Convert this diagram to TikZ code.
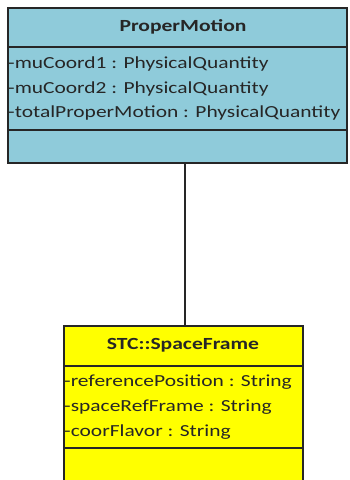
\documentclass[tikz,border=0pt]{standalone}
\usepackage{fontspec}
\setmainfont[FakeStretch=1.27]{Carlito}
\definecolor{pmblue}{RGB}{143,203,218}
\definecolor{sfyellow}{RGB}{255,255,0}
\begin{document}
\begin{tikzpicture}[x=1pt,y=-1pt,
  box/.style={draw=black!85,line width=1.6pt,inner sep=0pt,outer sep=0pt},
  ttl/.style={font=\fontsize{17}{19}\selectfont\bfseries,inner sep=0pt,text=black!85},
  attr/.style={font=\fontsize{16.9}{19}\selectfont,anchor=west,inner sep=0pt,text=black!85},
  link/.style={draw=black!85,line width=1.6pt}]
\useasboundingbox (0,0) rectangle (349,480);
% ProperMotion
\path[box,fill=pmblue] (8,8) rectangle (347,163);
\draw[box] (8,47) -- (347,47);
\draw[box] (8,130) -- (347,130);
\node[ttl] (pmt) at (183,27) {ProperMotion};
\node[attr] (pm1) at (8,64) {-muCoord1 : PhysicalQuantity};
\node[attr] (pm2) at (8,89) {-muCoord2 : PhysicalQuantity};
\node[attr] (pm3) at (8,113) {-totalProperMotion : PhysicalQuantity};
\coordinate (pmbot) at (185,163);
% SpaceFrame
\path[box,fill=sfyellow] (64,326) rectangle (303,490);
\draw[box] (64,366) -- (303,366);
\draw[box] (64,448) -- (303,448);
\node[ttl] (sft) at (183,345) {STC::SpaceFrame};
\node[attr] (sf1) at (64,382) {-referencePosition : String};
\node[attr] (sf2) at (64,407) {-spaceRefFrame : String};
\node[attr] (sf3) at (64,432) {-coorFlavor : String};
\coordinate (sftop) at (185,326);
\draw[link] (pmbot) -- (sftop);
\end{tikzpicture}
\end{document}
